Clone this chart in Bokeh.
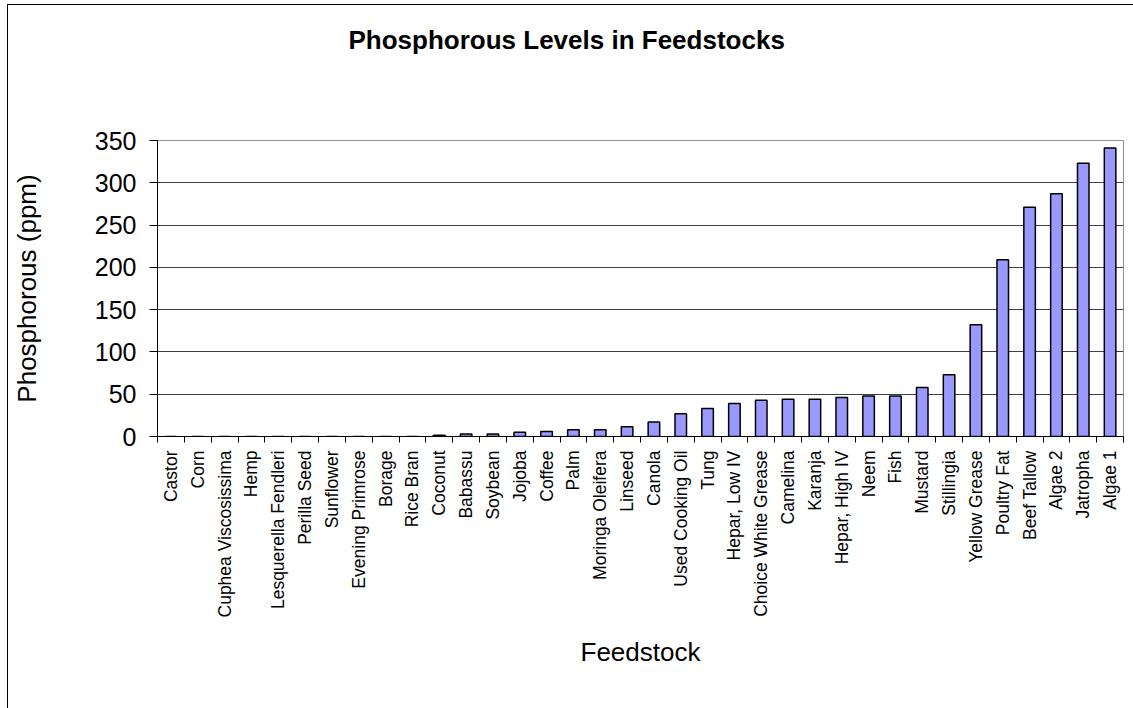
import numpy as np
from bokeh.plotting import figure
from bokeh.models import Range1d, FixedTicker, ColumnDataSource, Title
from bokeh.embed import file_html
from bokeh.resources import INLINE
from math import pi

feedstocks = ["Castor", "Corn", "Cuphea Viscosissima", "Hemp", "Lesquerella Fendleri",
              "Perilla Seed", "Sunflower", "Evening Primrose", "Borage", "Rice Bran",
              "Coconut", "Babassu", "Soybean", "Jojoba", "Coffee", "Palm",
              "Moringa Oleifera", "Linseed", "Canola", "Used Cooking Oil", "Tung",
              "Hepar, Low IV", "Choice White Grease", "Camelina", "Karanja",
              "Hepar, High IV", "Neem", "Fish", "Mustard", "Stillingia",
              "Yellow Grease", "Poultry Fat", "Beef Tallow", "Algae 2", "Jatropha", "Algae 1"]
phosphorus = [0, 0, 0, 0, 0, 0, 0, 0, 0, 0,
              1.5, 3, 3, 5, 6, 8, 8, 11.5, 17, 27, 33,
              39, 43, 44, 44, 46, 48, 48, 58, 73,
              132, 209, 271, 287, 323, 341]
y_ticks = [0, 50, 100, 150, 200, 250, 300, 350]

FONT = "Liberation Sans"
n = len(feedstocks)
centers = np.arange(n) + 0.5

p = figure(width=1126, height=704, output_backend="svg", toolbar_location=None,
           x_range=Range1d(0, n), y_range=Range1d(0, 350),
           min_border_left=149, min_border_right=11, min_border_top=135, min_border_bottom=273)
p.styles = {"border-left": "1px solid black", "border-top": "1px solid black",
            "margin-left": "7px", "margin-top": "4px"}
p.background_fill_color = "white"
p.border_fill_color = "white"
p.outline_line_color = "#909090"

p.title.text = "Phosphorous Levels in Feedstocks"
p.title.text_font = FONT
p.title.text_font_size = "26px"
p.title.text_font_style = "bold"
p.title.text_color = "black"
p.title.align = "left"
p.title.offset = 191
p.title.vertical_align = "top"
p.title.standoff = 10

# blank spacer between title and plot area
spacer = Title(text=" ", text_font=FONT, text_font_size="26px", standoff=47)
p.add_layout(spacer, "above")

src = ColumnDataSource(dict(x=centers, top=phosphorus))
p.vbar(x="x", top="top", width=0.43, source=src, fill_color="#9999FF",
       line_color="black", line_width=1.5)

# y axis
p.yaxis.ticker = FixedTicker(ticks=y_ticks)
p.yaxis.axis_label = "Phosphorous (ppm)"
p.yaxis.axis_label_text_font = FONT
p.yaxis.axis_label_text_font_size = "26px"
p.yaxis.axis_label_text_font_style = "normal"
p.yaxis.axis_label_text_color = "black"
p.yaxis.axis_label_standoff = 50
p.yaxis.major_label_text_font = FONT
p.yaxis.major_label_text_font_size = "25px"
p.yaxis.major_label_text_color = "black"
p.yaxis.major_tick_out = 8
p.yaxis.major_tick_in = 0
p.yaxis.minor_tick_line_color = None
p.yaxis.major_label_standoff = 13
p.yaxis.axis_line_color = "black"
p.yaxis.major_tick_line_color = "black"

# x axis
p.xaxis.ticker = FixedTicker(ticks=list(centers), minor_ticks=list(range(n + 1)))
p.xaxis.major_label_overrides = {float(c): name for c, name in zip(centers, feedstocks)}
p.xaxis.major_label_orientation = pi / 2
p.xaxis.major_label_text_font = FONT
p.xaxis.major_label_text_font_size = "17.5px"
p.xaxis.major_label_text_color = "black"
p.xaxis.major_tick_line_color = None
p.xaxis.major_tick_out = 6
p.xaxis.major_tick_in = 0
p.xaxis.minor_tick_line_color = "black"
p.xaxis.minor_tick_out = 6
p.xaxis.minor_tick_in = 0
p.xaxis.major_label_standoff = 8
p.xaxis.axis_line_color = "black"
p.xaxis.axis_label = "Feedstock"
p.xaxis.axis_label_text_font = FONT
p.xaxis.axis_label_text_font_size = "26px"
p.xaxis.axis_label_text_font_style = "normal"
p.xaxis.axis_label_text_color = "black"
p.xaxis.axis_label_standoff = 17

p.xgrid.grid_line_color = None
p.ygrid.ticker = FixedTicker(ticks=y_ticks)
p.ygrid.grid_line_color = "#404040"
p.ygrid.grid_line_width = 1

open("out.html", "w").write(file_html(p, INLINE))
